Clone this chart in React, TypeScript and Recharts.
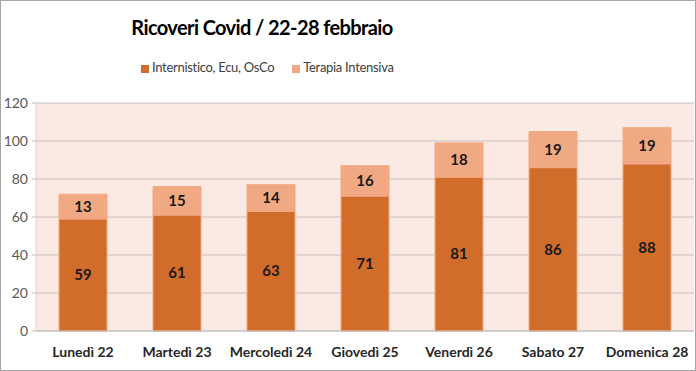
import React from 'react';
import { BarChart, Bar, XAxis, YAxis, CartesianGrid, LabelList } from 'recharts';

const days = ['Lunedì 22', 'Martedì 23', 'Mercoledì 24', 'Giovedì 25', 'Venerdì 26', 'Sabato 27', 'Domenica 28'];
const internistico = [59, 61, 63, 71, 81, 86, 88];
const intensiva = [13, 15, 14, 16, 18, 19, 19];
const yTicks = [0, 20, 40, 60, 80, 100, 120];

const DARK = '#d26c2b';
const LIGHT = '#f1a983';
const FONT = 'Lato, "Open Sans", sans-serif';

const data = days.map((day, i) => ({
  day,
  internistico: internistico[i],
  intensiva: intensiva[i],
}));

const Swatch = ({ color }: { color: string }) => (
  <span style={{ display: 'inline-block', width: 8, height: 8, background: color, marginRight: 3, verticalAlign: 'middle' }} />
);

export default function App() {
  return (
    <div style={{ position: 'absolute', left: 0, top: 0, width: 696, height: 371, background: '#fff', fontFamily: FONT }}>
      <div style={{ position: 'absolute', left: 0, top: 0, width: 694, height: 369, border: '1px solid #a6a6a6' }} />
      <div style={{ position: 'absolute', left: 0, top: 15, width: 524, textAlign: 'center', fontSize: 20, fontWeight: 700, color: '#000', letterSpacing: -0.6 }}>
        Ricoveri Covid / 22-28 febbraio
      </div>
      <div style={{ position: 'absolute', left: 141, top: 59, fontSize: 13, color: '#404040', whiteSpace: 'nowrap', letterSpacing: -0.3 }}>
        <Swatch color={DARK} />Internistico, Ecu, OsCo
        <span style={{ marginLeft: 18 }} />
        <Swatch color={LIGHT} />Terapia Intensiva
      </div>
      <BarChart
        width={696}
        height={371}
        data={data}
        margin={{ top: 103, right: 2, left: 0, bottom: 0 }}
        style={{ position: 'absolute', left: 0, top: 0 }}
      >
        <CartesianGrid vertical={false} fill="#fbe9e4" stroke="#c9c0bd" />
        <XAxis
          dataKey="day"
          height={40}
          tickLine={false}
          axisLine={{ stroke: '#bfbfbf' }}
          tick={{ fill: '#262626', fontSize: 14, fontWeight: 700, fontFamily: FONT }}
          tickMargin={10}
        />
        <YAxis
          width={36}
          domain={[0, 120]}
          ticks={yTicks}
          axisLine={{ stroke: '#d9d9d9' }}
          tickLine={{ stroke: '#bfbfbf' }}
          tickSize={4}
          tickMargin={4}
          tick={{ fill: '#595959', fontSize: 14, fontFamily: FONT }}
        />
        <Bar dataKey="internistico" stackId="a" fill={DARK} stroke={LIGHT} strokeWidth={1} barSize={48} isAnimationActive={false}>
          <LabelList dataKey="internistico" position="center" fill="#1a1a1a" fontSize={15} fontWeight={700} fontFamily={FONT} />
        </Bar>
        <Bar dataKey="intensiva" stackId="a" fill={LIGHT} stroke={LIGHT} strokeWidth={1} barSize={48} isAnimationActive={false}>
          <LabelList dataKey="intensiva" position="center" fill="#1a1a1a" fontSize={15} fontWeight={700} fontFamily={FONT} />
        </Bar>
      </BarChart>
    </div>
  );
}
